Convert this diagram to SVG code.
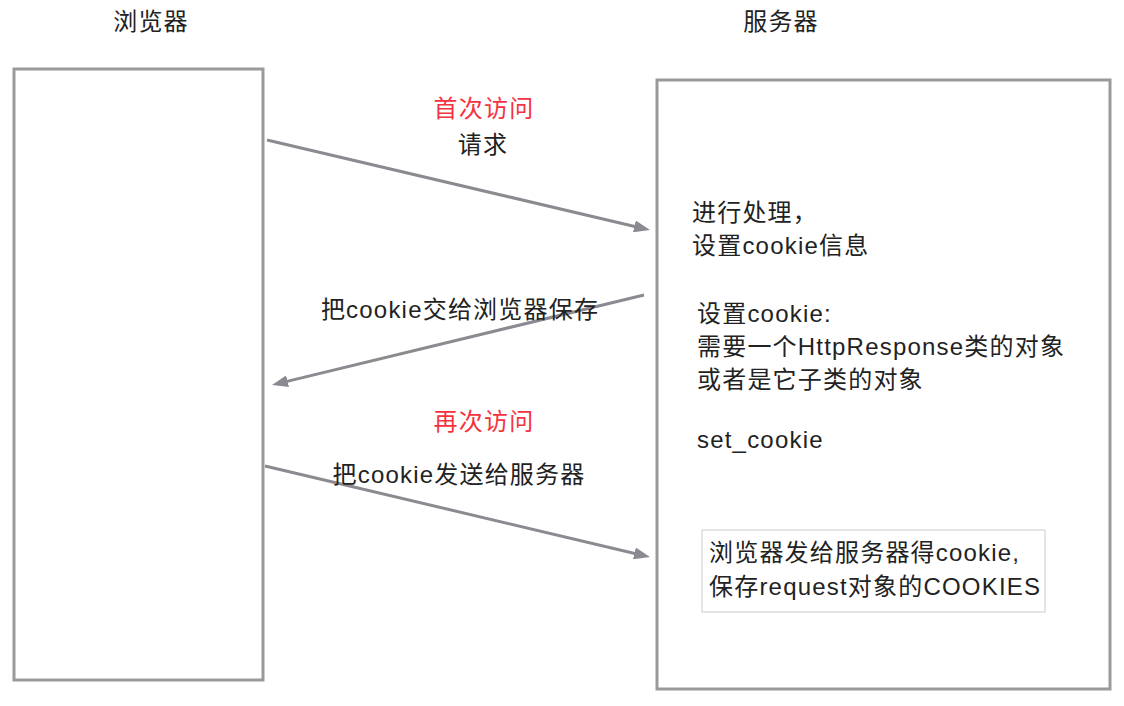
<svg xmlns="http://www.w3.org/2000/svg" width="1124" height="706" viewBox="0 0 1124 706">
<style>
.t{font-family:"Liberation Sans","Noto Sans CJK SC",sans-serif;font-size:24px;fill:#222;letter-spacing:1.2px}
.r{fill:#f5333f}
.m{text-anchor:middle}
.box{fill:#fff;stroke:#9a9a9a;stroke-width:3}
.inner{fill:#fff;stroke:#d4d4d4;stroke-width:1.2}
.conn{stroke:#8a8a90;stroke-width:3;fill:none}
</style>
<defs>
<marker id="ah" viewBox="0 0 16 12" refX="8" refY="6" markerWidth="16" markerHeight="12" markerUnits="userSpaceOnUse" orient="auto">
<path d="M0,0 L16,6 L0,12 Z" fill="#8a8a90"/>
</marker>
</defs>
<rect width="1124" height="706" fill="#fff"/>
<g id="browser">
<rect class="box" x="14" y="69" width="249" height="611"/>
<text class="t m" x="151" y="30">浏览器</text>
</g>
<g id="server">
<rect class="box" x="657" y="80" width="453" height="609"/>
<text class="t m" x="781" y="30">服务器</text>
<text class="t" x="692" y="221">进行处理，</text>
<text class="t" x="692" y="254">设置cookie信息</text>
<text class="t" x="697" y="322">设置cookie:</text>
<text class="t" x="697" y="355">需要一个HttpResponse类的对象</text>
<text class="t" x="697" y="388">或者是它子类的对象</text>
<text class="t" x="697" y="448">set_cookie</text>
</g>
<g id="cookies-note">
<rect class="inner" x="702" y="530" width="343" height="82"/>
<text class="t" x="709" y="561">浏览器发给服务器得cookie,</text>
<text class="t" x="709" y="595">保存request对象的COOKIES</text>
</g>
<g id="connectors">
<line class="conn" x1="267" y1="140" x2="642.2" y2="228.2" marker-end="url(#ah)"/>
<line class="conn" x1="644" y1="295" x2="279.8" y2="383.1" marker-end="url(#ah)"/>
<line class="conn" x1="265" y1="466" x2="642.2" y2="555.2" marker-end="url(#ah)"/>
</g>
<g id="labels">
<text class="t r m" x="484" y="117">首次访问</text>
<text class="t m" x="483" y="153">请求</text>
<text class="t m" x="460" y="318">把cookie交给浏览器保存</text>
<text class="t r m" x="484" y="430">再次访问</text>
<text class="t m" x="459" y="483">把cookie发送给服务器</text>
</g>
</svg>
